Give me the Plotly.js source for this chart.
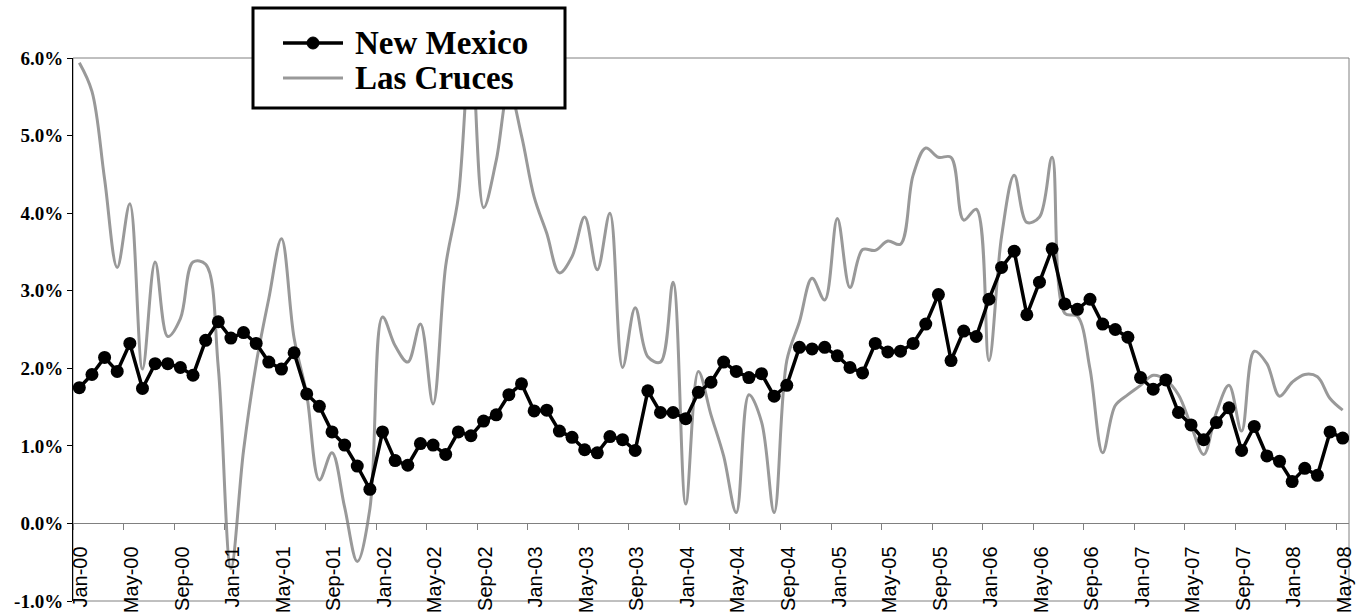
<!DOCTYPE html>
<html>
<head>
<meta charset="utf-8">
<script src="https://cdn.plot.ly/plotly-3.0.1.min.js"></script>
<style>html,body{margin:0;padding:0;background:#fff;}#chart{width:1363px;height:616px;}</style>
</head>
<body>
<div id="chart"></div>
<script>
// Months Jan-00 .. May-08 (101 monthly categories)
const monthNames = ["Jan","Feb","Mar","Apr","May","Jun","Jul","Aug","Sep","Oct","Nov","Dec"];
const months = [];
for (let y = 0; y <= 8; y++) {
  for (let m = 0; m < 12; m++) {
    if (y === 8 && m > 4) break;
    months.push(monthNames[m] + "-0" + y);
  }
}

// New Mexico (% change), monthly
const newMexico = [
  1.75,1.92,2.14,1.96,2.32,1.74,2.06,2.06,2.01,1.91,2.36,2.60,
  2.39,2.46,2.32,2.08,1.99,2.20,1.67,1.51,1.18,1.01,0.74,0.44,
  1.18,0.81,0.75,1.03,1.01,0.89,1.18,1.13,1.32,1.40,1.66,1.80,
  1.45,1.46,1.19,1.11,0.95,0.91,1.12,1.08,0.94,1.71,1.43,1.43,
  1.35,1.69,1.82,2.08,1.96,1.88,1.93,1.64,1.78,2.27,2.25,2.27,
  2.16,2.01,1.94,2.32,2.21,2.22,2.32,2.57,2.95,2.10,2.48,2.41,
  2.89,3.30,3.51,2.69,3.11,3.54,2.83,2.76,2.89,2.57,2.50,2.40,
  1.88,1.73,1.85,1.43,1.27,1.08,1.30,1.49,0.94,1.25,0.87,0.80,
  0.54,0.71,0.62,1.18,1.10
];

// Las Cruces (% change), monthly
const lasCruces = [
  5.94,5.57,4.44,3.30,4.12,1.99,3.37,2.41,2.64,3.37,3.34,2.01,
  -0.58,0.94,2.06,2.90,3.67,2.39,1.66,0.56,0.91,0.21,-0.49,0.19,
  2.66,2.29,2.08,2.57,1.54,3.32,4.21,6.20,4.07,4.68,5.60,5.00,
  4.21,3.74,3.23,3.44,3.95,3.27,4.00,2.01,2.78,2.15,2.08,3.11,
  0.25,1.96,1.40,0.87,0.14,1.66,1.31,0.14,2.10,2.60,3.16,2.88,
  3.93,3.04,3.53,3.52,3.64,3.60,4.49,4.84,4.72,4.72,3.91,4.05,
  2.10,3.70,4.49,3.88,3.95,4.72,2.71,2.67,1.99,0.91,1.52,1.66,
  1.78,1.91,1.85,1.66,1.26,0.89,1.43,1.78,1.19,2.22,2.06,1.64,
  1.82,1.92,1.89,1.61,1.46
];

const seriesNames = ["New Mexico", "Las Cruces"];
const xTickLabels = ["Jan-00","May-00","Sep-00","Jan-01","May-01","Sep-01","Jan-02","May-02","Sep-02",
  "Jan-03","May-03","Sep-03","Jan-04","May-04","Sep-04","Jan-05","May-05","Sep-05",
  "Jan-06","May-06","Sep-06","Jan-07","May-07","Sep-07","Jan-08","May-08"];
const yTickValues = [-1,0,1,2,3,4,5,6];
const yTickLabels = ["-1.0%","0.0%","1.0%","2.0%","3.0%","4.0%","5.0%","6.0%"];

const W = 1363, H = 616;
const M = {l: 73, r: 14, t: 58, b: 15};
const PW = W - M.l - M.r, PH = H - M.t - M.b;
// pixel -> paper coordinate helpers (for legend box placement)
const px = v => (v - M.l) / PW;
const py = v => (H - M.b - v) / PH;

const xIdx = months.map((_, i) => i);
const xTickPos = xTickLabels.map(l => months.indexOf(l) - 0.5);

const traces = [
  {
    name: seriesNames[1], x: xIdx, y: lasCruces, type: "scatter", mode: "lines",
    line: {color: "#999999", width: 3, shape: "spline", smoothing: 1},
    text: months, hoverinfo: "text+y", showlegend: false
  },
  {
    name: seriesNames[0], x: xIdx, y: newMexico, type: "scatter", mode: "lines+markers",
    line: {color: "#000000", width: 3.5},
    marker: {color: "#000000", size: 13, symbol: "circle"},
    text: months, hoverinfo: "text+y", showlegend: false
  }
];

const legFont = {family: "Liberation Serif, Times New Roman, serif", size: 33, color: "#000000", weight: "bold"};

const layout = {
  width: W, height: H,
  margin: {l: M.l, r: M.r, t: M.t, b: M.b, pad: 0, autoexpand: false},
  paper_bgcolor: "#ffffff", plot_bgcolor: "#ffffff",
  showlegend: false,
  xaxis: {
    range: [-0.5, 100.5], anchor: "free", position: 1/7,
    tickmode: "array", tickvals: xTickPos, ticktext: xTickLabels, tickangle: -90,
    ticks: "outside", ticklen: 6, tickcolor: "#808080", tickwidth: 1,
    showline: true, linecolor: "#808080", linewidth: 1,
    showgrid: false, zeroline: false,
    tickfont: {family: "Liberation Sans, Arial, sans-serif", size: 20, color: "#000000"},
    ticklabelshift: 8, ticklabelstandoff: 8
  },
  yaxis: {
    range: [-1, 6], tickmode: "array", tickvals: yTickValues, ticktext: yTickLabels,
    ticks: "outside", ticklen: 5, tickcolor: "#000000", tickwidth: 1,
    showline: true, linecolor: "#000000", linewidth: 1,
    showgrid: false, zeroline: false,
    tickfont: {family: "Liberation Serif, Times New Roman, serif", size: 19, color: "#000000", weight: "bold"}
  },
  shapes: [
    {type: "rect", xref: "paper", yref: "paper", x0: 0, x1: 1, y0: 0, y1: 1,
     line: {color: "#808080", width: 1}, layer: "below"},
    // legend box
    {type: "rect", xref: "paper", yref: "paper", x0: px(253), x1: px(565), y0: py(108), y1: py(8),
     line: {color: "#000000", width: 3}, fillcolor: "#ffffff", layer: "above"},
    // legend symbols
    {type: "line", xref: "paper", yref: "paper", x0: px(283), x1: px(343), y0: py(43), y1: py(43),
     line: {color: "#000000", width: 3.5}, layer: "above"},
    {type: "circle", xref: "paper", yref: "paper", x0: px(307), x1: px(319), y0: py(49), y1: py(37),
     line: {color: "#000000", width: 1}, fillcolor: "#000000", layer: "above"},
    {type: "line", xref: "paper", yref: "paper", x0: px(283), x1: px(343), y0: py(78), y1: py(78),
     line: {color: "#999999", width: 3}, layer: "above"}
  ],
  annotations: [
    {xref: "paper", yref: "paper", x: px(353), y: py(43), xanchor: "left", yanchor: "middle",
     text: seriesNames[0], showarrow: false, font: legFont},
    {xref: "paper", yref: "paper", x: px(353), y: py(78), xanchor: "left", yanchor: "middle",
     text: seriesNames[1], showarrow: false, font: legFont}
  ]
};

Plotly.newPlot("chart", traces, layout, {displayModeBar: false, staticPlot: true});
</script>
</body>
</html>
